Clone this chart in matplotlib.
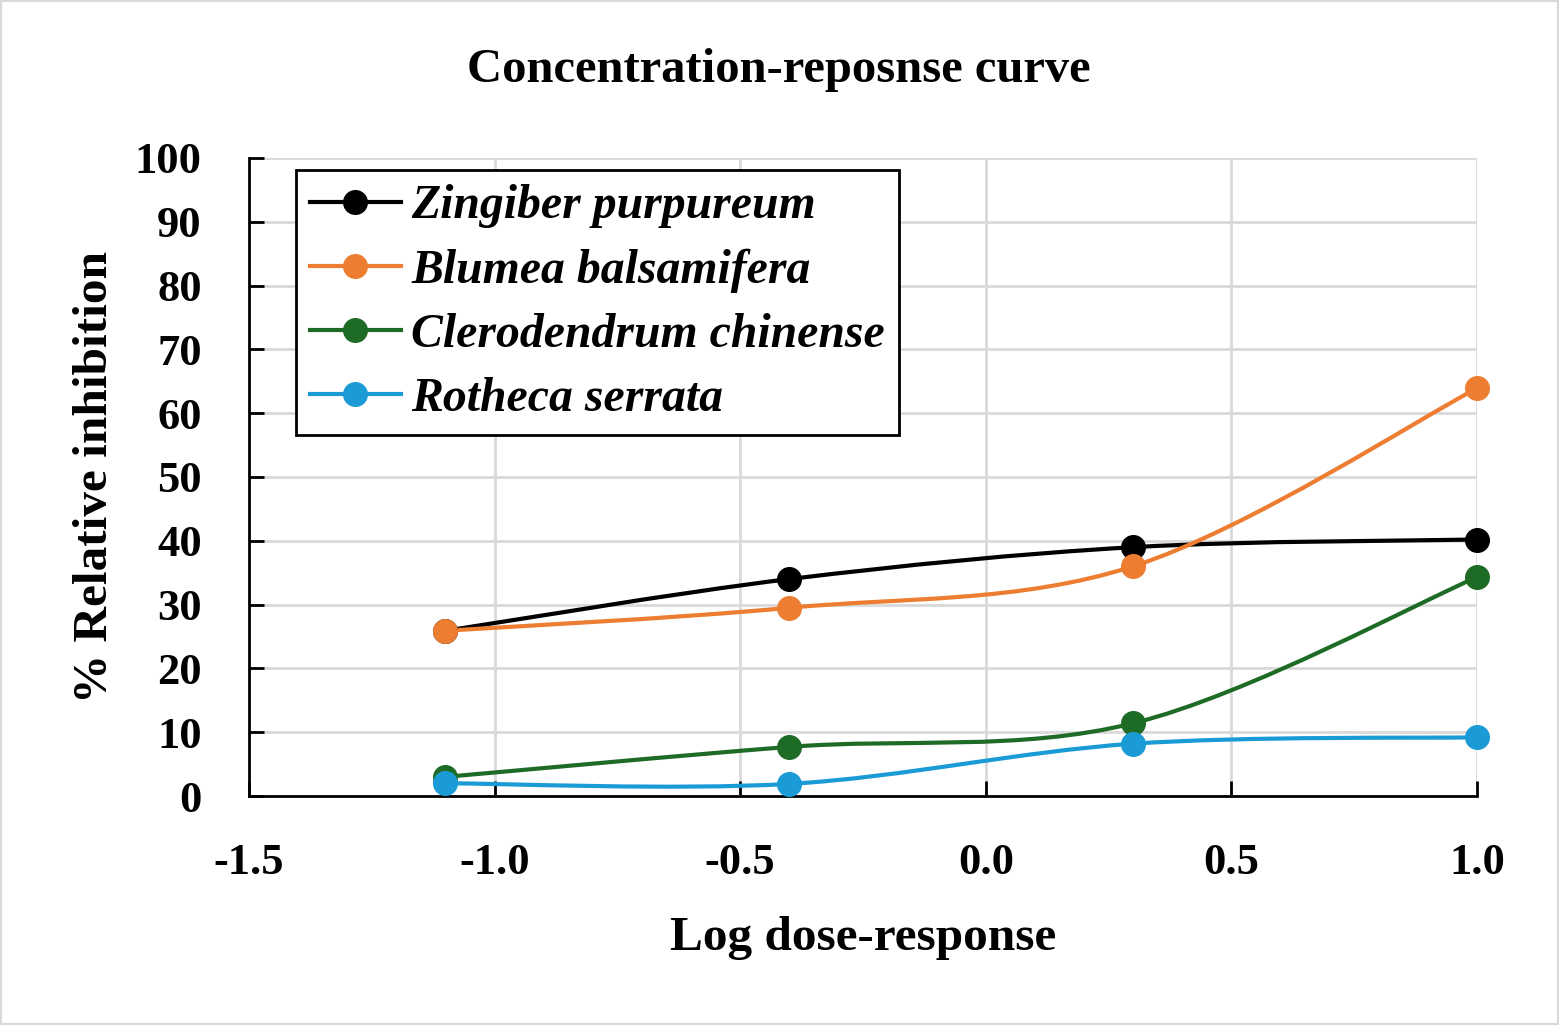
import numpy as np
import matplotlib
matplotlib.use("Agg")
import matplotlib.pyplot as plt
from matplotlib.path import Path
from matplotlib.patches import PathPatch, Rectangle
from matplotlib.lines import Line2D

# data
log_dose = [-1.1, -0.4, 0.3, 1.0]
zingiber = [25.9, 34.0, 39.0, 40.2]
blumea = [25.9, 29.5, 36.0, 63.9]
clerodendrum = [3.0, 7.7, 11.4, 34.3]
rotheca = [2.0, 1.9, 8.2, 9.2]

series_names = ["Zingiber purpureum", "Blumea balsamifera",
                "Clerodendrum chinense", "Rotheca serrata"]
series_values = [zingiber, blumea, clerodendrum, rotheca]
colors = ["#000000", "#ED7D31", "#1E6B26", "#1A9BD6"]

x_ticks = [-1.5, -1.0, -0.5, 0.0, 0.5, 1.0]
y_ticks = [0, 10, 20, 30, 40, 50, 60, 70, 80, 90, 100]

plt.rcParams["font.family"] = ["Liberation Serif", "DejaVu Serif"]


def smooth_path(xs, ys, tension=1.0 / 6):
    # Excel style smoothed line: cubic bezier through every point
    pts = np.column_stack([xs, ys])
    n = len(pts)
    verts = [pts[0]]
    codes = [Path.MOVETO]
    for i in range(n - 1):
        p0 = pts[i - 1] if i > 0 else pts[i]
        p1 = pts[i]
        p2 = pts[i + 1]
        p3 = pts[i + 2] if i + 2 < n else pts[i + 1]
        c1 = p1 + (p2 - p0) * tension
        c2 = p2 - (p3 - p1) * tension
        verts += [c1, c2, p2]
        codes += [Path.CURVE4] * 3
    return Path(verts, codes)


fig = plt.figure(figsize=(15.59, 10.25), dpi=100)
fig.patches.append(Rectangle((0, 0), 1, 1, transform=fig.transFigure,
                             fill=False, edgecolor="#D9D9D9", linewidth=3))
ax = fig.add_axes([0.1597, 0.2234, 0.7877, 0.6225])

handles = []
for name, vals, c in zip(series_names, series_values, colors):
    patch = PathPatch(smooth_path(log_dose, vals), fill=False, edgecolor=c,
                      linewidth=3, zorder=3, capstyle="round")
    ax.add_patch(patch)
    ax.plot(log_dose, vals, linestyle="none", marker="o", markersize=17,
            color=c, zorder=4, clip_on=False)
    handles.append(Line2D([], [], color=c, linewidth=3, marker="o",
                          markersize=17))

ax.set_xlim(-1.5, 1.0)
ax.set_ylim(0, 100)
ax.set_xticks(x_ticks)
ax.set_xticklabels([f"{t:.1f}" for t in x_ticks])
ax.set_yticks(y_ticks)
ax.grid(True, color="#D9D9D9", linewidth=2)
ax.set_axisbelow(True)
for s in ["top", "right"]:
    ax.spines[s].set_visible(False)
for s in ["left", "bottom"]:
    ax.spines[s].set_linewidth(2)
ax.tick_params(direction="in", length=11, width=2, labelsize=32, pad=34)
for lab in ax.get_xticklabels() + ax.get_yticklabels():
    lab.set_fontweight("bold")

ax.set_xlabel("Log dose-response", fontsize=35.5, fontweight="bold")
ax.set_ylabel("% Relative inhibition", fontsize=35.5, fontweight="bold")
ax.xaxis.set_label_coords(0.5, -0.223)
ax.xaxis.label.set_va("center")
ax.yaxis.set_label_coords(-0.125, 0.5)
ax.yaxis.label.set_va("center")

fig.text(0.4997, 0.932, "Concentration-reposnse curve", fontsize=35,
         fontweight="bold", ha="center", va="center")

leg = ax.legend(handles, series_names, loc="upper left",
                bbox_to_anchor=(0.038, 0.981), borderaxespad=0,
                prop={"style": "italic", "weight": "bold", "size": 34.4},
                handlelength=1.9, handletextpad=0.22, labelspacing=0.42,
                borderpad=0.3, fancybox=False, framealpha=1)
leg.get_frame().set_edgecolor("black")
leg.get_frame().set_linewidth(2)

fig.savefig("out.png", dpi=100)
